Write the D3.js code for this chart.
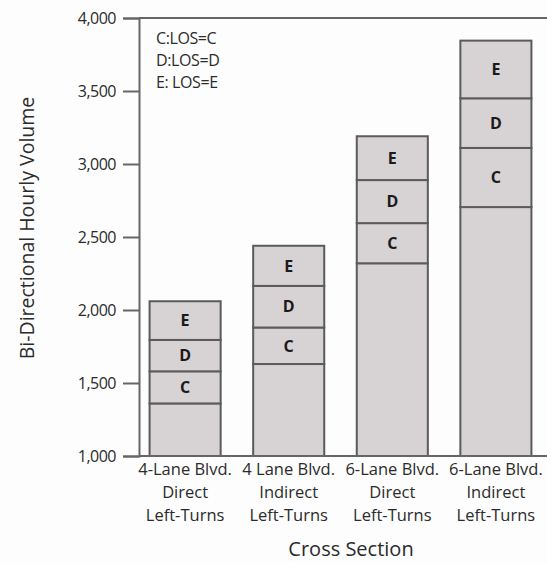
<!DOCTYPE html>
<html>
<head>
<meta charset="utf-8">
<script src="https://cdn.jsdelivr.net/npm/d3@7/dist/d3.min.js"></script>
<style>
  html, body { margin: 0; padding: 0; background: #fdfdfd; }
  svg { display: block; font-family: "Open Sans", "Noto Sans", sans-serif; }
</style>
</head>
<body>
<svg id="chart" width="547" height="563"></svg>
<script>
// ---- data ----
const categories = [
  ["4-Lane Blvd.", "Direct", "Left-Turns"],
  ["4 Lane Blvd.", "Indirect", "Left-Turns"],
  ["6-Lane Blvd.", "Direct", "Left-Turns"],
  ["6-Lane Blvd.", "Indirect", "Left-Turns"]
];
const losCStart = [1360, 1630, 2320, 2705];
const losDStart = [1580, 1880, 2595, 3110];
const losEStart = [1795, 2165, 2890, 3450];
const losEEnd   = [2060, 2440, 3190, 3845];
const yTicks = [1000, 1500, 2000, 2500, 3000, 3500, 4000];
const legendLines = ["C:LOS=C", "D:LOS=D", "E: LOS=E"];
const yTitle = "Bi-Directional Hourly Volume";
const xTitle = "Cross Section";

// ---- drawing ----
const W = 547, H = 563;
const svg = d3.select("#chart");
const fill = "#d7d2d3", stroke = "#5b5b5b", axisCol = "#666", txt = "#2b2b2b";

const ids = categories.map((c, i) => "cat" + i);
const x = d3.scaleBand().domain(ids).range([133, 548]).paddingInner(0.314).paddingOuter(0.16);
const y = d3.scaleLinear().domain([1000, 4000]).range([456, 18]);
const left = 139;

// top frame line
svg.append("line").attr("x1", left).attr("x2", W).attr("y1", y(4000)).attr("y2", y(4000))
  .attr("stroke", axisCol).attr("stroke-width", 2);

// bars: segments base, C, D, E
const rows = ids.map((id, i) => ({id, segs: [
  {lab: "",  y0: 1000,         y1: losCStart[i]},
  {lab: "C", y0: losCStart[i], y1: losDStart[i]},
  {lab: "D", y0: losDStart[i], y1: losEStart[i]},
  {lab: "E", y0: losEStart[i], y1: losEEnd[i]}
]}));

const g = svg.append("g");
rows.forEach(r => {
  const bg = g.append("g");
  bg.selectAll("rect").data(r.segs).join("rect")
    .attr("x", x(r.id)).attr("width", x.bandwidth())
    .attr("y", d => y(d.y1)).attr("height", d => y(d.y0) - y(d.y1))
    .attr("fill", fill).attr("stroke", stroke).attr("stroke-width", 2);
  bg.selectAll("text").data(r.segs.filter(d => d.lab)).join("text")
    .attr("x", x(r.id) + x.bandwidth() / 2)
    .attr("y", d => (y(d.y0) + y(d.y1)) / 2)
    .attr("dy", "0.36em").attr("text-anchor", "middle")
    .attr("font-size", 16).attr("font-weight", "bold").attr("fill", "#1a1a1a")
    .text(d => d.lab);
});

// y axis
const yAxis = svg.append("g").attr("transform", `translate(${left},0)`)
  .call(d3.axisLeft(y).tickValues(yTicks).tickFormat(d3.format(",")).tickSize(16).tickPadding(7));
yAxis.select(".domain").attr("stroke", axisCol).attr("stroke-width", 2);
yAxis.selectAll(".tick line").attr("stroke", axisCol).attr("stroke-width", 2);
yAxis.selectAll(".tick text").attr("font-size", 16).attr("letter-spacing", -0.5).attr("fill", txt)
  .attr("font-family", "'Open Sans', sans-serif");

// x axis line
svg.append("line").attr("x1", left).attr("x2", W).attr("y1", y(1000)).attr("y2", y(1000))
  .attr("stroke", axisCol).attr("stroke-width", 2);

// x category labels
categories.forEach((lines, i) => {
  const t = svg.append("text").attr("text-anchor", "middle")
    .attr("font-size", 16.5).attr("fill", txt);
  lines.forEach((ln, k) => {
    t.append("tspan").attr("x", x(ids[i]) + x.bandwidth() / 2)
      .attr("y", 475 + k * 23).text(ln);
  });
});

// legend text
legendLines.forEach((ln, k) => {
  svg.append("text").attr("x", 156).attr("y", 44 + k * 22)
    .attr("font-size", 16).attr("letter-spacing", -0.4).attr("fill", txt).text(ln);
});

// axis titles
svg.append("text").attr("transform", "translate(34,228) rotate(-90)")
  .attr("text-anchor", "middle").attr("font-size", 19.5).attr("fill", txt).text(yTitle);
svg.append("text").attr("x", 351).attr("y", 556)
  .attr("text-anchor", "middle").attr("font-size", 20).attr("fill", txt).text(xTitle);
</script>
</body>
</html>
